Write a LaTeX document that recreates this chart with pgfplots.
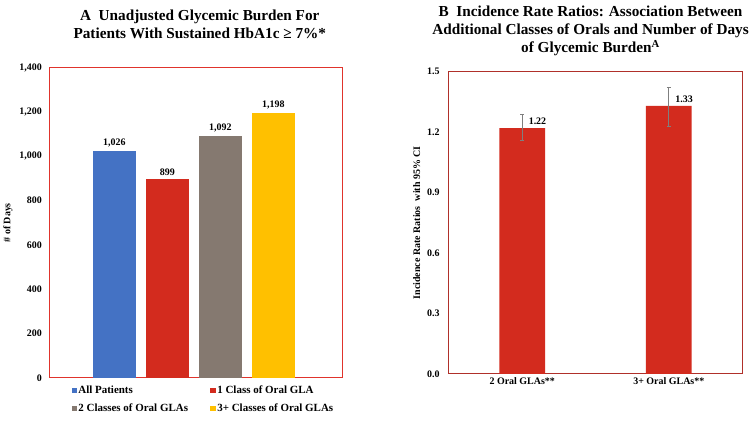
\documentclass[border=0pt]{standalone}
\usepackage{pgfplots}
\pgfplotsset{compat=1.18}
\usepackage{fontspec}
\setmainfont{Liberation Serif}
\definecolor{cblue}{HTML}{4472C4}
\definecolor{cred}{HTML}{D32B1E}
\definecolor{cgrey}{HTML}{857970}
\definecolor{cyellow}{HTML}{FFC000}
\definecolor{frameA}{HTML}{E0342C}
\definecolor{frameB}{HTML}{B0302A}
\definecolor{errgrey}{HTML}{7F7F7F}
\begin{document}
\begin{tikzpicture}
\path (0pt,0pt) rectangle (755pt,423pt);
\node[align=center, font=\bfseries\fontsize{15.3}{18}\selectfont] at (198pt,399pt) {A\ \ Unadjusted Glycemic Burden For\\Patients With Sustained HbA1c ≥ 7\%*};
\node[align=center, font=\bfseries\fontsize{15.3}{18}\selectfont] at (590pt,392pt) {B\ \ Incidence Rate Ratios: Association Between\\Additional Classes of Orals and Number of Days\\of Glycemic Burden\textsuperscript{A}};
\begin{axis}[at={(47pt,44pt)}, anchor=south west, scale only axis,
  width=294pt, height=311pt,
  ymin=0, ymax=1400, xmin=-1.23, xmax=4.30,
  ytick={0,200,...,1400}, xtick=\empty,
  axis line style={frameA, line width=1pt},
  major tick length=0pt,
  /pgf/number format/assume math mode=true,
  /pgf/number format/1000 sep={,},
  tick label style={font=\bfseries\fontsize{10}{12}\selectfont},
  yticklabel style={xshift=-4pt},
  ylabel={\# of Days},
  ylabel style={font=\bfseries\fontsize{10}{12}\selectfont},
  ybar, bar width=43pt,
  nodes near coords,
  nodes near coords style={font=\bfseries\fontsize{10}{12}\selectfont, /pgf/number format/1000 sep={,}, /pgf/number format/assume math mode=true},
  legend style={at={(0.065,-0.012)}, anchor=north west, draw=none, fill=none,
    font=\bfseries\fontsize{11}{13}\selectfont, legend columns=2,
    nodes={inner xsep=1.5pt},
    /tikz/every even column/.append style={column sep=21pt}, row sep=5pt},
  legend cell align=left,
  legend image code/.code={\fill[#1] (0pt,-2.7pt) rectangle (5.4pt,2.7pt);},
]
\addplot[ybar, bar shift=0pt, fill=cblue, draw=none] coordinates {(0,1026)};
\addplot[ybar, bar shift=0pt, fill=cred, draw=none] coordinates {(1,899)};
\addplot[ybar, bar shift=0pt, fill=cgrey, draw=none] coordinates {(2,1092)};
\addplot[ybar, bar shift=0pt, fill=cyellow, draw=none] coordinates {(3,1198)};
\legend{All Patients, 1 Class of Oral GLA, 2 Classes of Oral GLAs, 3+ Classes of Oral GLAs}
\end{axis}
\begin{axis}[at={(448pt,48pt)}, anchor=south west, scale only axis,
  width=294pt, height=303pt,
  ymin=0, ymax=1.5, xmin=-0.5, xmax=1.5,
  ytick={0,0.3,0.6,0.9,1.2,1.5},
  xtick={0,1}, xticklabels={2 Oral GLAs**, 3+ Oral GLAs**},
  axis line style={frameB, line width=1pt},
  major tick length=0pt,
  /pgf/number format/assume math mode=true,
  yticklabel style={xshift=-6pt, /pgf/number format/fixed, /pgf/number format/fixed zerofill, /pgf/number format/precision=1},
  tick label style={font=\bfseries\fontsize{10}{12}\selectfont},
  ylabel={Incidence Rate Ratios\ \ with 95\% CI},
  ylabel style={font=\bfseries\fontsize{10}{12}\selectfont},
  ybar, bar width=46pt,
  nodes near coords,
  nodes near coords style={font=\bfseries\fontsize{10}{12}\selectfont, anchor=south west, xshift=3pt, /pgf/number format/fixed, /pgf/number format/precision=2, /pgf/number format/assume math mode=true},
]
\addplot[ybar, bar shift=0pt, fill=cred, draw=none,
  error bars/.cd, y dir=both, y explicit,
  error bar style={errgrey, line width=0.8pt},
  error mark options={rotate=90, errgrey, mark size=2pt, line width=0.8pt}]
  coordinates {(0,1.22) += (0,0.07) -= (0,0.06) (1,1.33) += (0,0.09) -= (0,0.10)};
\end{axis}
\end{tikzpicture}
\end{document}
